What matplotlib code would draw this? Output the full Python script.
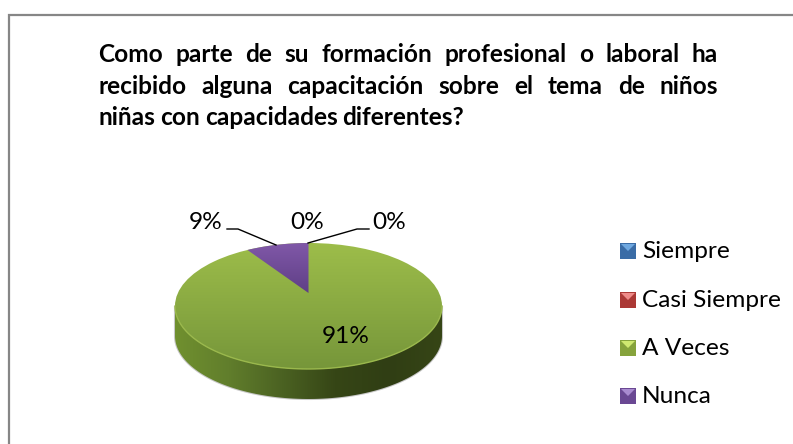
import numpy as np
import matplotlib
matplotlib.use("Agg")
import matplotlib.pyplot as plt
from matplotlib.patches import Ellipse, Polygon, Rectangle
from matplotlib.colors import LinearSegmentedColormap

# datos del grafico
categorias = ["Siempre", "Casi Siempre", "A Veces", "Nunca"]
valores = [0, 0, 91, 9]
etiquetas = ["0%", "0%", "91%", "9%"]
colores_leyenda = ["#3a6ca6", "#ab3835", "#86a33c", "#6a4893"]
titulo = [
    "Como parte de su formación profesional o laboral ha",
    "recibido alguna capacitación sobre el tema de niños",
    "niñas con capacidades diferentes?",
]

plt.rcParams["font.family"] = ["Lato", "DejaVu Sans"]

W, H = 793, 444
fig = plt.figure(figsize=(W / 100, H / 100), dpi=100)
ax = fig.add_axes([0, 0, 1, 1])
ax.set_xlim(0, W)
ax.set_ylim(H, 0)
ax.axis("off")

# marco: solo se ve arriba y a la izquierda
ax.plot([W, 9, 9], [15, 15, H], color="#868686", lw=1.6, solid_joinstyle="miter")

# -------- titulo justificado --------
x_izq, x_der = 98, 718
y_linea = [62, 93.5, 125]
fig.canvas.draw()
rend = fig.canvas.get_renderer()
for i, linea in enumerate(titulo):
    palabras = linea.split()
    textos = [ax.text(0, y_linea[i], p, fontsize=17.6, fontweight="bold", va="baseline", color="black")
              for p in palabras]
    anchos = [t.get_window_extent(rend).width for t in textos]
    if i < len(titulo) - 1:
        hueco = (x_der - x_izq - sum(anchos)) / (len(palabras) - 1)
    else:
        hueco = 5
    x = x_izq
    for t, a in zip(textos, anchos):
        t.set_x(x)
        x += a + hueco

# -------- torta 3D --------
cx, cy, rx, ry = 308.5, 306, 133.5, 63
prof = 30
apex_y = 293
persp = 0.84  # la perspectiva achica el angulo de la porcion de atras

grad_v = LinearSegmentedColormap.from_list("v", ["#9dbd4a", "#76963a"])
grad_h = LinearSegmentedColormap.from_list(
    "h", ["#70902f", "#617e2c", "#4b6222", "#364616", "#303e14", "#364516"])
grad_p = LinearSegmentedColormap.from_list("p", ["#8058a8", "#5f3f86"])

# costado
t = np.linspace(np.pi, 0, 100)
xs = cx + rx * np.cos(t)
ys = cy + ry * np.sin(t)
costado = np.vstack([np.c_[xs, ys + prof], np.c_[xs[::-1], ys[::-1]]])
ax.add_patch(Polygon(costado, closed=True, fc="none", ec="#c8c8c8", lw=1.5, zorder=1))
p = Polygon(costado, closed=True, fc="none", ec="none")
ax.add_patch(p)
im = ax.imshow(np.linspace(0, 1, 256)[None, :], cmap=grad_h, aspect="auto",
               extent=[cx - rx, cx + rx, cy + ry + prof, cy], zorder=2)
im.set_clip_path(p)

# cara superior
e = Ellipse((cx, cy), 2 * rx, 2 * ry, fc="none", ec="none", zorder=3)
ax.add_patch(e)
im = ax.imshow(np.linspace(0, 1, 256)[:, None], cmap=grad_v, aspect="auto",
               extent=[cx - rx, cx + rx, cy + ry, cy - ry], zorder=3)
im.set_clip_path(e)
ax.plot(xs, ys, color="#9ab84c", lw=1, zorder=4)

# porcion Nunca, el angulo sale del valor
ang = np.deg2rad(valores[3] / sum(valores) * 360 * persp)
t = np.linspace(0, ang, 30)
arco = np.c_[cx - rx * np.sin(t), cy - ry * np.cos(t)]
porcion = np.vstack([[cx, apex_y], arco])
p = Polygon(porcion, closed=True, fc="none", ec="none", zorder=5)
ax.add_patch(p)
im = ax.imshow(np.linspace(0, 1, 256)[:, None], cmap=grad_p, aspect="auto",
               extent=[arco[:, 0].min(), cx, apex_y, cy - ry], zorder=5)
im.set_clip_path(p)
ax.set_xlim(0, W)
ax.set_ylim(H, 0)

# etiquetas y lineas guia
ax.plot([227, 238, 276], [229, 229, 245], color="black", lw=1, zorder=6)
ax.plot([308, 357, 369], [243, 229, 229], color="black", lw=1, zorder=6)
for txt, x, y in [(etiquetas[3], 206, 229), (etiquetas[0], 307, 229),
                  (etiquetas[1], 389, 229), (etiquetas[2], 346, 343)]:
    ax.text(x, y, txt, fontsize=17.6, ha="center", va="baseline", color="black", zorder=7)

# -------- leyenda --------
y_leyenda = [243, 292, 340, 388]
claro = ["#6fa8e0", "#ee8a88", "#cfe870", "#a98bd0"]
for nombre, c, cl, y in zip(categorias, colores_leyenda, claro, y_leyenda):
    ax.add_patch(Rectangle((620, y), 16, 16, fc=c, ec="none", zorder=6))
    ax.add_patch(Polygon([(621, y + 1), (635, y + 1), (628, y + 8)], closed=True, fc=cl, ec="none", zorder=7))
    ax.text(642, y + 15, nombre, fontsize=17.6, va="baseline", color="black")

fig.savefig("out.png", dpi=100)
